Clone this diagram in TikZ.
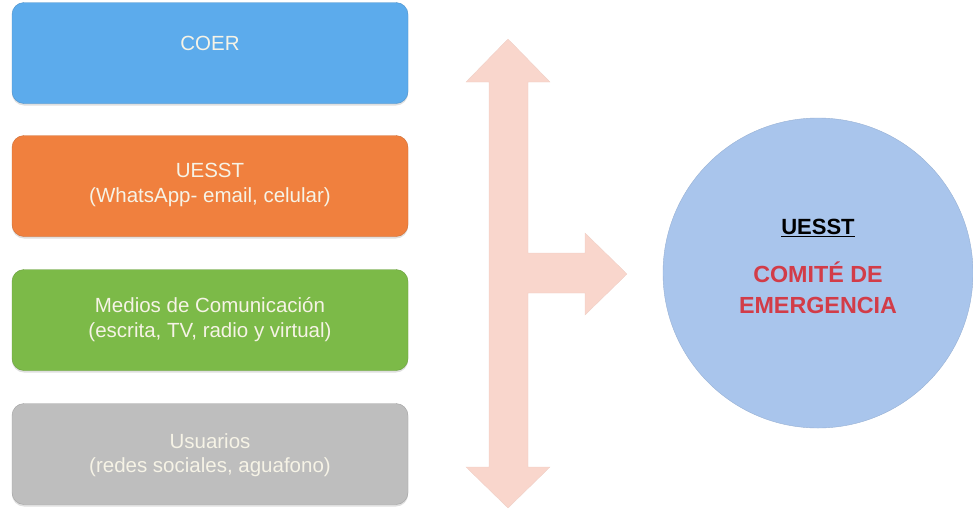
\documentclass[tikz,border=0pt]{standalone}
\usepackage{fontspec}
\setmainfont{Liberation Sans}
\usetikzlibrary{shadows}
\definecolor{cblue}{HTML}{5CABEC}
\definecolor{corange}{HTML}{F0803E}
\definecolor{cgreen}{HTML}{7CBA48}
\definecolor{cgray}{HTML}{BEBEBE}
\definecolor{ctext}{HTML}{F6F3E6}
\definecolor{carrow}{HTML}{F9D6CC}
\definecolor{ccircle}{HTML}{A9C5EC}
\definecolor{cred}{HTML}{D23C48}
\tikzset{
  box/.style={rectangle, rounded corners=12pt, minimum width=396pt, minimum height=101pt,
    fill=#1, draw=#1!85!black, line width=0.4pt, drop shadow={shadow xshift=0pt, shadow yshift=-2pt, opacity=0.25}},
  boxtext/.style={text=ctext, align=center, font=\fontsize{20.5}{24.5}\selectfont},
  circtext/.style={align=center, font=\fontsize{22}{31}\selectfont\bfseries}
}
\begin{document}
\begin{tikzpicture}[x=1pt,y=-1pt]
\useasboundingbox (0,0) rectangle (973,509);
% left boxes
\node[box=cblue] (coer) at (210,53) {};
\node[boxtext] (coert) at (210,43) {COER};
\node[box=corange] (uesst) at (210,186) {};
\node[boxtext] (uesstt) at (210,185) {UESST\\(WhatsApp- email, celular)};
\node[box=cgreen] (medios) at (210,320) {};
\node[boxtext] (mediost) at (210,319.5) {Medios de Comunicaci\'on\\(escrita, TV, radio y virtual)};
\node[box=cgray] (usuarios) at (210,454) {};
\node[boxtext] (usuariost) at (210,455) {Usuarios\\(redes sociales, aguafono)};
% arrow
\fill[carrow, draw=carrow!90!gray, line width=0.3pt]
  (508,39) -- (550,82) -- (528,82) -- (528,253) -- (585,253) -- (585,233)
  -- (627,274) -- (585,315) -- (585,293) -- (528,293) -- (528,467)
  -- (550,467) -- (508,508) -- (466,467) -- (489,467) -- (489,82)
  -- (466,82) -- cycle;
% circle
\node[circle, minimum size=310pt, fill=ccircle, draw=ccircle!90!black, line width=0.4pt] (comite) at (818,273) {};
\node[circtext, text=black] (cu) at (818,228) {\underline{UESST}};
\node[circtext, text=cred, font=\fontsize{23.3}{31}\selectfont\bfseries] (ce) at (818,288) {COMIT\'E DE\\EMERGENCIA};
\end{tikzpicture}
\end{document}
